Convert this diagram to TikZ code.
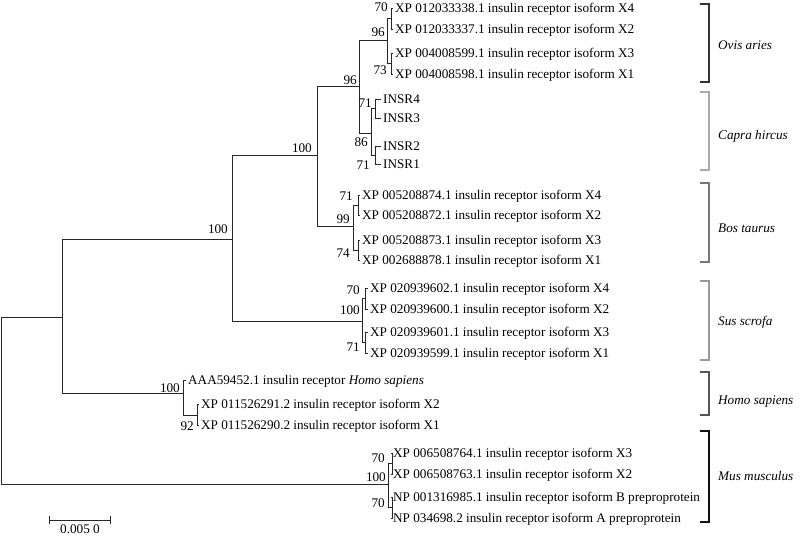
\documentclass[tikz,border=0pt]{standalone}
\usepackage{fontspec}
\setmainfont{Liberation Serif}
\definecolor{ovcol}{HTML}{333333}
\definecolor{cacol}{HTML}{AAAAAA}
\definecolor{bocol}{HTML}{777777}
\definecolor{sucol}{HTML}{999999}
\definecolor{hocol}{HTML}{555555}
\definecolor{mucol}{HTML}{111111}
\begin{document}
\begin{tikzpicture}[x=1pt,y=-1pt,
  txt/.style={font=\fontsize{13.2}{15}\selectfont, text height=8.7pt, text depth=0pt},
  br/.style={line width=1pt, draw=black!85},
  leaf/.style={txt, anchor=west, inner xsep=2pt, inner ysep=0pt},
  bs/.style={txt, anchor=east, inner sep=0pt},
  sp/.style={txt, anchor=west, inner sep=0pt, font=\fontsize{13.2}{15}\selectfont\itshape},
  brk/.style={line width=#1, line join=miter, line cap=butt}]
\useasboundingbox (0,0) rectangle (800,536);
% internal nodes
\coordinate (R) at (1,400);
\coordinate (A) at (62,317);
\coordinate (B) at (232,239);
\coordinate (C) at (317,155);
\coordinate (D) at (359,86);
\coordinate (E) at (387,40);
\coordinate (E1) at (391,18);
\coordinate (E2) at (391,63);
\coordinate (F) at (371,133);
\coordinate (F1) at (375,108.5);
\coordinate (F2) at (375,155);
\coordinate (G) at (353,226);
\coordinate (G1) at (358,205);
\coordinate (G2) at (358,250);
\coordinate (H) at (362,321);
\coordinate (H1) at (365,298.5);
\coordinate (H2) at (365,342.5);
\coordinate (I) at (183,393);
\coordinate (I2) at (197,415);
\coordinate (J) at (388,484);
\coordinate (J1) at (392,463.5);
\coordinate (J2) at (392,507.5);
% leaves
\node[leaf] (o1) at (393,8) {XP 012033338.1 insulin receptor isoform X4};
\node[leaf] (o2) at (393,29) {XP 012033337.1 insulin receptor isoform X2};
\node[leaf] (o3) at (393,53) {XP 004008599.1 insulin receptor isoform X3};
\node[leaf] (o4) at (393,74) {XP 004008598.1 insulin receptor isoform X1};
\node[leaf] (c1) at (381,99) {INSR4};
\node[leaf] (c2) at (381,118) {INSR3};
\node[leaf] (c3) at (381,146) {INSR2};
\node[leaf] (c4) at (381,164) {INSR1};
\node[leaf] (b1) at (360,195) {XP 005208874.1 insulin receptor isoform X4};
\node[leaf] (b2) at (360,215) {XP 005208872.1 insulin receptor isoform X2};
\node[leaf] (b3) at (360,240) {XP 005208873.1 insulin receptor isoform X3};
\node[leaf] (b4) at (360,260) {XP 002688878.1 insulin receptor isoform X1};
\node[leaf] (s1) at (368,288) {XP 020939602.1 insulin receptor isoform X4};
\node[leaf] (s2) at (368,309) {XP 020939600.1 insulin receptor isoform X2};
\node[leaf] (s3) at (368,332) {XP 020939601.1 insulin receptor isoform X3};
\node[leaf] (s4) at (368,353) {XP 020939599.1 insulin receptor isoform X1};
\node[leaf] (h1) at (186,380) {AAA59452.1 insulin receptor \textit{Homo sapiens}};
\node[leaf] (h2) at (199,404) {XP 011526291.2 insulin receptor isoform X2};
\node[leaf] (h3) at (199,425) {XP 011526290.2 insulin receptor isoform X1};
\node[leaf] (m1) at (391,453) {XP 006508764.1 insulin receptor isoform X3};
\node[leaf] (m2) at (391,474) {XP 006508763.1 insulin receptor isoform X2};
\node[leaf] (m3) at (391,497) {NP 001316985.1 insulin receptor isoform B preproprotein};
\node[leaf] (m4) at (391,518) {NP 034698.2 insulin receptor isoform A preproprotein};
% branches
\draw[br] (R) |- (A);
\draw[br] (R) |- (J);
\draw[br] (A) |- (B);
\draw[br] (A) |- (I);
\draw[br] (B) |- (C);
\draw[br] (B) |- (H);
\draw[br] (C) |- (D);
\draw[br] (C) |- (G);
\draw[br] (D) |- (E);
\draw[br] (D) |- (F);
\draw[br] (E) |- (E1);
\draw[br] (E) |- (E2);
\draw[br] (E1) |- (o1.west);
\draw[br] (E1) |- (o2.west);
\draw[br] (E2) |- (o3.west);
\draw[br] (E2) |- (o4.west);
\draw[br] (F) |- (F1);
\draw[br] (F) |- (F2);
\draw[br] (F1) |- (c1.west);
\draw[br] (F1) |- (c2.west);
\draw[br] (F2) |- (c3.west);
\draw[br] (F2) |- (c4.west);
\draw[br] (G) |- (G1);
\draw[br] (G) |- (G2);
\draw[br] (G1) |- (b1.west);
\draw[br] (G1) |- (b2.west);
\draw[br] (G2) |- (b3.west);
\draw[br] (G2) |- (b4.west);
\draw[br] (H) |- (H1);
\draw[br] (H) |- (H2);
\draw[br] (H1) |- (s1.west);
\draw[br] (H1) |- (s2.west);
\draw[br] (H2) |- (s3.west);
\draw[br] (H2) |- (s4.west);
\draw[br] (I) |- (h1.west);
\draw[br] (I) |- (I2);
\draw[br] (I2) |- (h2.west);
\draw[br] (I2) |- (h3.west);
\draw[br] (J) |- (J1);
\draw[br] (J) |- (J2);
\draw[br] (J1) |- (m1.west);
\draw[br] (J1) |- (m2.west);
\draw[br] (J2) |- (m3.west);
\draw[br] (J2) |- (m4.west);
% bootstrap values
\node[bs] (bE1) at (388,7.5) {70};
\node[bs] (bE) at (385,32) {96};
\node[bs] (bE2) at (387,70) {73};
\node[bs] (bD) at (357,80.5) {96};
\node[bs] (bC) at (312,148) {100};
\node[bs] (bF1) at (372,103) {71};
\node[bs] (bF) at (368,142) {86};
\node[bs] (bF2) at (370,165) {71};
\node[bs] (bB) at (228,229) {100};
\node[bs] (bG1) at (353,196) {71};
\node[bs] (bG) at (350,219) {99};
\node[bs] (bG2) at (350,253) {74};
\node[bs] (bH1) at (360,290) {70};
\node[bs] (bH) at (360,310) {100};
\node[bs] (bH2) at (360,347) {71};
\node[bs] (bI) at (180,388) {100};
\node[bs] (bI2) at (194,426) {92};
\node[bs] (bJ1) at (385,458) {70};
\node[bs] (bJ) at (386,477) {100};
\node[bs] (bJ2) at (385,503) {70};
% scale bar
\coordinate (sb1) at (49,520);
\coordinate (sb2) at (110,520);
\draw[br] (sb1) -- (sb2);
\draw[br] ([yshift=4pt]sb1) -- ([yshift=-4pt]sb1);
\draw[br] ([yshift=4pt]sb2) -- ([yshift=-4pt]sb2);
\node[txt, inner sep=0pt, anchor=center] (sbl) at (80,529.5) {0.005 0};
% clade brackets
\coordinate (ovt) at (700,4); \coordinate (ovb) at (700,82);
\coordinate (cat) at (700,92); \coordinate (cab) at (700,170);
\coordinate (bot) at (700,183); \coordinate (bob) at (700,262);
\coordinate (sut) at (700,281); \coordinate (sub) at (700,360);
\coordinate (hot) at (700,372); \coordinate (hob) at (700,415);
\coordinate (mut) at (700,431); \coordinate (mub) at (700,522);
\draw[brk=1.8pt, draw=ovcol] (ovt) -- ++(9,0) |- (ovb);
\draw[brk=1.5pt, draw=cacol] (cat) -- ++(9,0) |- (cab);
\draw[brk=1.6pt, draw=bocol] (bot) -- ++(9,0) |- (bob);
\draw[brk=1.4pt, draw=sucol] (sut) -- ++(9,0) |- (sub);
\draw[brk=1.6pt, draw=hocol] (hot) -- ++(9,0) |- (hob);
\draw[brk=2pt, draw=mucol] (mut) -- ++(9,0) |- (mub);
\node[sp] (ovl) at (718,45) {Ovis aries};
\node[sp] (cal) at (718,135) {Capra hircus};
\node[sp] (bol) at (718,228) {Bos taurus};
\node[sp] (sul) at (718,321) {Sus scrofa};
\node[sp] (hol) at (718,400) {Homo sapiens};
\node[sp] (mul) at (718,476) {Mus musculus};
\end{tikzpicture}
\end{document}
